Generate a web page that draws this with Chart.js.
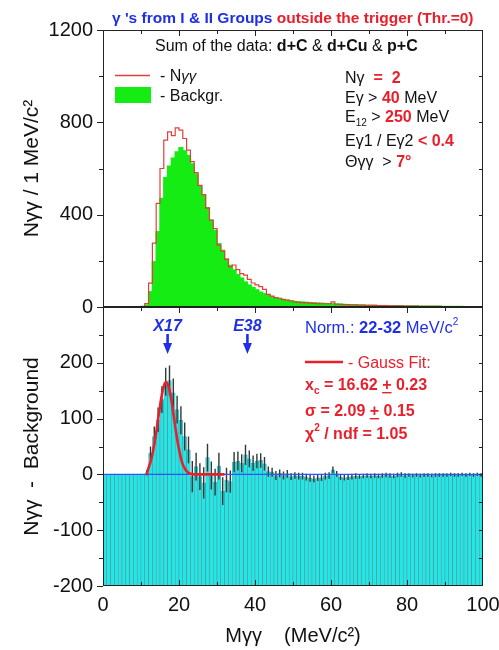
<!DOCTYPE html>
<html>
<head>
<meta charset="utf-8">
<script src="https://cdn.jsdelivr.net/npm/chart.js@4.4.0/dist/chart.umd.min.js"></script>
<style>
  html, body { margin: 0; padding: 0; background: #fff; }
  #wrap { position: relative; width: 499px; height: 650px; }
  #wrap canvas { position: absolute; left: 0; top: 0; }
</style>
</head>
<body>
<div id="wrap">
  <canvas id="chartTop" width="499" height="650"></canvas>
  <canvas id="chartBottom" width="499" height="650"></canvas>
</div>
<script>
/* ── data: 1 MeV/c2 bins from 0 to 100 ── */
const binCenters = Array.from({ length: 100 }, (_, i) => i + 0.5);

// top panel: N(gamma gamma) and mixed-event background
const nGammaGamma = [
  0, 0, 0, 0, 0, 0, 0, 0, 0, 1,
  3, 15, 103, 277, 449, 600, 723, 759, 742, 776,
  766, 730, 680, 630, 582, 527, 487, 428, 376, 340,
  268, 242, 206, 174, 182, 162, 145, 138, 120, 104,
  96, 88, 76, 55, 47, 41, 38, 32, 30, 26,
  22, 20, 19, 18, 17, 16, 15, 14, 14, 14,
  22, 12, 11, 10, 10, 9, 9, 8, 8, 7,
  7, 7, 6, 6, 6, 5, 5, 5, 5, 4,
  4, 4, 4, 3, 3, 3, 3, 3, 3, 2,
  2, 2, 2, 2, 2, 1, 1, 1, 1, 1
];
const background = [
  0, 0, 0, 0, 0, 0, 0, 0, 0, 0,
  1, 8, 66, 196, 326, 470, 560, 610, 645, 672,
  690, 676, 655, 620, 576, 525, 485, 430, 375, 332,
  274, 245, 208, 180, 160, 140, 125, 108, 95, 84,
  74, 64, 57, 50, 44, 40, 36, 33, 29, 27,
  24, 22, 21, 20, 19, 18, 17, 16, 15, 14,
  14, 13, 12, 11, 10, 9, 9, 8, 8, 7,
  7, 7, 6, 6, 6, 5, 5, 5, 5, 4,
  4, 4, 4, 3, 3, 3, 3, 3, 3, 2,
  2, 2, 2, 2, 2, 1, 1, 1, 1, 1
];

// bottom panel: N(gamma gamma) - background, with errors
const difference = [
  0, 0, 0, 0, 0, 0, 0, 0, 0, 0,
  0, 3, 38, 68, 98, 134, 166, 168, 146, 116,
  97, 68, 44, -4, 14, -4, -15, 30, -2, -14,
  15, -30, -10, -13, 22, 24, 20, 35, 28, 20,
  24, 25, 19, 5, 4, -2, 2, -2, 1, -4,
  -2, -3, -3, -5, -7, -8, -6, -6, -3, -2,
  8, 1, -5, -6, -5, -4, -3, -4, -3, -2,
  -3, -2, -3, -2, -1, -2, -3, -1, 0, -2,
  -1, -2, -1, -2, -1, -1, -2, -1, -1, -1,
  -1, 0, -1, -1, 0, -1, 0, -1, 0, -1
];
const diffError = [
  0, 0, 0, 0, 0, 0, 0, 0, 0, 0,
  0, 5, 12, 18, 22, 24, 25, 27, 26, 25,
  25, 25, 24, 28, 25, 24, 28, 25, 25, 24,
  24, 25, 22, 20, 18, 17, 16, 18, 15, 14,
  13, 13, 12, 9, 8, 8, 7, 7, 7, 6,
  6, 6, 6, 6, 6, 6, 6, 6, 6, 6,
  6, 5, 5, 5, 5, 5, 5, 4, 4, 4,
  4, 4, 4, 4, 4, 4, 4, 4, 4, 4,
  3, 3, 3, 3, 3, 3, 3, 3, 3, 3,
  3, 3, 3, 3, 3, 3, 3, 3, 3, 3
];

// Gauss fit curve (xc = 16.62, sigma = 2.09)
const fitX = [11.5, 12, 12.5, 13, 13.5, 14, 14.5, 15, 15.5, 16, 16.5, 17, 17.5, 18, 18.5, 19, 19.5, 20, 20.5, 21, 21.5, 22, 22.5, 23, 24, 32];
const fitY = [0, 12, 22, 36, 54, 75, 99, 122, 143, 158, 165, 162, 151, 133, 110, 86, 64, 45, 29, 18, 11, 6, 3, 1, 0, 0];

const topTicks = [0, 400, 800, 1200];
const bottomTicks = [-200, -100, 0, 100, 200];
const xTicks = [0, 20, 40, 60, 80, 100];
const markers = [{ label: 'X17', x: 17 }, { label: 'E38', x: 38 }];

/* ── styles ── */
const FONT = '"Liberation Sans", Arial, Helvetica, sans-serif';
const BLUE = '#1f2fe6';
const RED = '#e8202c';
const GREEN = '#14ec14';
const f = (size, weight = 'normal', style = 'normal') => `${style} ${weight} ${size}px ${FONT}`;

Chart.defaults.font.family = FONT;
Chart.defaults.color = '#111';

function drawRich(ctx, x, y, parts) {
  ctx.textBaseline = 'alphabetic';
  ctx.textAlign = 'left';
  for (const p of parts) {
    ctx.font = p.f;
    ctx.fillStyle = p.c;
    const yy = y + (p.dy || 0);
    ctx.fillText(p.t, x, yy);
    const w = ctx.measureText(p.t).width;
    if (p.u) ctx.fillRect(x, yy + 2, w, 1.4);
    x += w;
  }
}

/* ── frame + Origin-style ticks ── */
const frameTicks = {
  id: 'frameTicks',
  afterDraw(chart, args, opt) {
    const { ctx, chartArea: a, scales: { x, y } } = chart;
    ctx.save();
    ctx.strokeStyle = '#222';
    ctx.lineWidth = 1;
    ctx.strokeRect(Math.round(a.left) + 0.5, Math.round(a.top) + 0.5,
      Math.round(a.right - a.left) - 1, Math.round(a.bottom - a.top) - 1);
    ctx.beginPath();
    for (let v = x.min + opt.xStep; v < x.max; v += opt.xStep) {
      const px = Math.round(x.getPixelForValue(v)) + 0.5;
      const len = v % opt.xMajor === 0 ? 6 : 4;
      if (opt.top) { ctx.moveTo(px, a.top); ctx.lineTo(px, a.top + len); }
      if (opt.bottom) { ctx.moveTo(px, a.bottom); ctx.lineTo(px, a.bottom - len); }
    }
    for (let v = y.min; v <= y.max; v += opt.yStep) {
      const py = Math.round(y.getPixelForValue(v)) + 0.5;
      const major = v % opt.yMajor === 0;
      ctx.moveTo(a.left - (major ? 6 : 4), py); ctx.lineTo(a.left, py);
      if (v > y.min && v < y.max) { ctx.moveTo(a.right, py); ctx.lineTo(a.right - 4, py); }
    }
    ctx.stroke();
    ctx.restore();
  }
};

/* ── error bars on the difference histogram ── */
const errorBars = {
  id: 'errorBars',
  afterDatasetDraw(chart, args) {
    if (args.index !== 0) return;
    const { ctx, chartArea: a, scales: { x, y } } = chart;
    ctx.save();
    ctx.beginPath();
    ctx.rect(a.left, a.top, a.right - a.left, a.bottom - a.top);
    ctx.clip();
    ctx.strokeStyle = '#2d3a3a';
    ctx.lineWidth = 1.4;
    ctx.beginPath();
    difference.forEach((v, i) => {
      if (!diffError[i]) return;
      const px = x.getPixelForValue(binCenters[i]);
      ctx.moveTo(px, y.getPixelForValue(v + diffError[i]));
      ctx.lineTo(px, y.getPixelForValue(v - diffError[i]));
    });
    ctx.stroke();
    ctx.restore();
  }
};

/* ── annotations ── */
const topLabels = {
  id: 'topLabels',
  afterDraw(chart) {
    const ctx = chart.ctx;
    ctx.save();
    drawRich(ctx, 112, 22.5, [
      { t: "γ 's from I & II Groups ", f: f(15.5, 'bold'), c: BLUE },
      { t: 'outside the trigger (Thr.=0)', f: f(15.5, 'bold'), c: RED }
    ]);
    drawRich(ctx, 155, 51, [
      { t: 'Sum of the data: ', f: f(16), c: '#111' },
      { t: 'd+C', f: f(16, 'bold'), c: '#111' },
      { t: ' & ', f: f(16), c: '#111' },
      { t: 'd+Cu', f: f(16, 'bold'), c: '#111' },
      { t: ' & ', f: f(16), c: '#111' },
      { t: 'p+C', f: f(16, 'bold'), c: '#111' }
    ]);
    // legend
    ctx.strokeStyle = '#e0403c';
    ctx.lineWidth = 1.3;
    ctx.beginPath(); ctx.moveTo(115, 75.5); ctx.lineTo(150, 75.5); ctx.stroke();
    ctx.fillStyle = GREEN;
    ctx.fillRect(115, 87, 36, 16);
    drawRich(ctx, 160, 81, [
      { t: '- N', f: f(16), c: '#111' },
      { t: 'γγ', f: f(15, 'normal', 'italic'), c: '#111' }
    ]);
    drawRich(ctx, 160, 101, [{ t: '- Backgr.', f: f(16), c: '#111' }]);
    // cuts
    const k = '#111';
    drawRich(ctx, 345, 83, [
      { t: 'Nγ', f: f(16), c: k },
      { t: '  =  2', f: f(16, 'bold'), c: RED }
    ]);
    drawRich(ctx, 345, 103, [
      { t: 'Eγ > ', f: f(16), c: k },
      { t: '40', f: f(16, 'bold'), c: RED },
      { t: ' MeV', f: f(16), c: k }
    ]);
    drawRich(ctx, 345, 122, [
      { t: 'E', f: f(16), c: k },
      { t: '12', f: f(10), c: k, dy: 4 },
      { t: ' > ', f: f(16), c: k },
      { t: '250', f: f(16, 'bold'), c: RED },
      { t: ' MeV', f: f(16), c: k }
    ]);
    drawRich(ctx, 345, 146, [
      { t: 'Eγ1 / Eγ2 ', f: f(16), c: k },
      { t: '< 0.4', f: f(16, 'bold'), c: RED }
    ]);
    drawRich(ctx, 345, 167, [
      { t: 'Θγγ  > ', f: f(16), c: k },
      { t: '7°', f: f(16, 'bold'), c: RED }
    ]);
    ctx.restore();
  }
};

const bottomLabels = {
  id: 'bottomLabels',
  afterDraw(chart) {
    const { ctx, scales: { x } } = chart;
    ctx.save();
    for (const m of markers) {
      const px = x.getPixelForValue(m.x);
      ctx.font = f(16, 'bold', 'italic');
      ctx.fillStyle = BLUE;
      ctx.textAlign = 'center';
      ctx.textBaseline = 'alphabetic';
      ctx.fillText(m.label, px, 331);
      ctx.strokeStyle = BLUE;
      ctx.lineWidth = 2.6;
      ctx.beginPath(); ctx.moveTo(px, 334); ctx.lineTo(px, 345); ctx.stroke();
      ctx.beginPath();
      ctx.moveTo(px - 4.5, 343); ctx.lineTo(px + 4.5, 343); ctx.lineTo(px, 354); ctx.closePath();
      ctx.fill();
    }
    drawRich(ctx, 305, 333, [
      { t: 'Norm.: ', f: f(16.5), c: BLUE },
      { t: '22-32', f: f(16.5, 'bold'), c: BLUE },
      { t: ' MeV/c', f: f(16.5), c: BLUE },
      { t: '2', f: f(10), c: BLUE, dy: -8 }
    ]);
    ctx.strokeStyle = RED;
    ctx.lineWidth = 2.5;
    ctx.beginPath(); ctx.moveTo(305, 362); ctx.lineTo(343, 362); ctx.stroke();
    drawRich(ctx, 348, 368, [{ t: '- Gauss Fit:', f: f(16), c: RED }]);
    const b = f(16, 'bold');
    drawRich(ctx, 305, 390, [
      { t: 'x', f: b, c: RED },
      { t: 'c', f: f(10, 'bold'), c: RED, dy: 4 },
      { t: ' = 16.62 ', f: b, c: RED },
      { t: '+', f: b, c: RED, u: true },
      { t: ' 0.23', f: b, c: RED }
    ]);
    drawRich(ctx, 305, 416, [
      { t: 'σ = 2.09 ', f: b, c: RED },
      { t: '+', f: b, c: RED, u: true },
      { t: ' 0.15', f: b, c: RED }
    ]);
    drawRich(ctx, 305, 439, [
      { t: 'χ', f: b, c: RED },
      { t: '2', f: f(10, 'bold'), c: RED, dy: -8 },
      { t: ' / ndf = 1.05', f: b, c: RED }
    ]);
    ctx.restore();
  }
};

/* ── shared axis helpers ── */
function yAxis(min, max, step, title, labels) {
  return {
    min, max,
    afterFit: s => { s.width = 103; s.paddingTop = 0; s.paddingBottom = 0; },
    grid: { display: false, drawTicks: false },
    border: { display: false },
    ticks: {
      stepSize: step, padding: 10, color: '#111',
      font: { size: 20 },
      callback: v => labels.includes(v) ? String(v) : ''
    },
    title: { display: true, text: title, color: '#111', font: { size: 21 }, padding: { top: 20, bottom: 0 } }
  };
}

const Charts = {};

/* ── top panel: N(gg) and background ── */
function initTopChart() {
  const el = document.getElementById('chartTop');
  Charts.top = new Chart(el, {
    type: 'bar',
    data: {
      datasets: [
        {
          type: 'line',
          data: binCenters.map((x, i) => ({ x, y: nGammaGamma[i] })),
          borderColor: '#e0403c', borderWidth: 1.2, fill: false,
          stepped: 'middle', pointRadius: 0, order: 1
        },
        {
          type: 'bar',
          data: binCenters.map((x, i) => ({ x, y: background[i] })),
          backgroundColor: GREEN, borderColor: GREEN, borderWidth: 0,
          barPercentage: 1, categoryPercentage: 1, inflateAmount: 0.7, order: 2
        }
      ]
    },
    options: {
      responsive: false, animation: false, devicePixelRatio: 1,
      layout: { padding: { left: 0, right: 16, top: 30, bottom: 343 } },
      plugins: { legend: { display: false }, tooltip: { enabled: false }, frameTicks: { xStep: 10, xMajor: 20, yStep: 200, yMajor: 400, top: true, bottom: false } },
      scales: {
        x: { type: 'linear', min: 0, max: 100, offset: false, display: false },
        y: yAxis(0, 1200, 400, 'Nγγ / 1 MeV/c²', topTicks)
      }
    },
    plugins: [frameTicks, topLabels]
  });
}

/* ── bottom panel: difference with Gauss fit ── */
function initBottomChart() {
  const el = document.getElementById('chartBottom');
  Charts.bottom = new Chart(el, {
    type: 'bar',
    data: {
      datasets: [
        {
          type: 'bar',
          data: binCenters.map((x, i) => ({ x, y: difference[i] })),
          base: -200,
          backgroundColor: '#1ee8e8', borderColor: 'rgba(30,100,105,0.6)', borderWidth: 0.7,
          borderSkipped: 'start', barPercentage: 1, categoryPercentage: 1, order: 3
        },
        {
          type: 'line',
          data: [{ x: 0, y: 0 }, { x: 100, y: 0 }],
          borderColor: '#2a55ff', borderWidth: 1.2, pointRadius: 0, order: 2
        },
        {
          type: 'line',
          data: fitX.map((x, i) => ({ x, y: fitY[i] })),
          borderColor: RED, borderWidth: 2.6, pointRadius: 0,
          cubicInterpolationMode: 'monotone', order: 1
        }
      ]
    },
    options: {
      responsive: false, animation: false, devicePixelRatio: 1,
      layout: { padding: { left: 0, right: 16, top: 307, bottom: 0 } },
      plugins: { legend: { display: false }, tooltip: { enabled: false }, frameTicks: { xStep: 10, xMajor: 20, yStep: 50, yMajor: 100, top: true, bottom: true } },
      scales: {
        x: {
          type: 'linear', min: 0, max: 100, offset: false,
          afterFit: s => { s.height = 64; s.paddingLeft = 0; s.paddingRight = 0; },
          grid: { display: false, drawTicks: false },
          border: { display: false },
          ticks: {
            stepSize: 20, padding: 7, color: '#111', maxRotation: 0, autoSkip: false,
            font: { size: 20 },
            callback: v => xTicks.includes(v) ? String(v) : ''
          },
          title: { display: true, text: 'Mγγ    (MeV/c²)', color: '#111', font: { size: 20 }, padding: { top: 0, bottom: 2 } }
        },
        y: yAxis(-200, 300, 100, 'Nγγ  -  Background', bottomTicks)
      }
    },
    plugins: [errorBars, frameTicks, bottomLabels]
  });
}

initTopChart();
initBottomChart();
</script>
</body>
</html>
